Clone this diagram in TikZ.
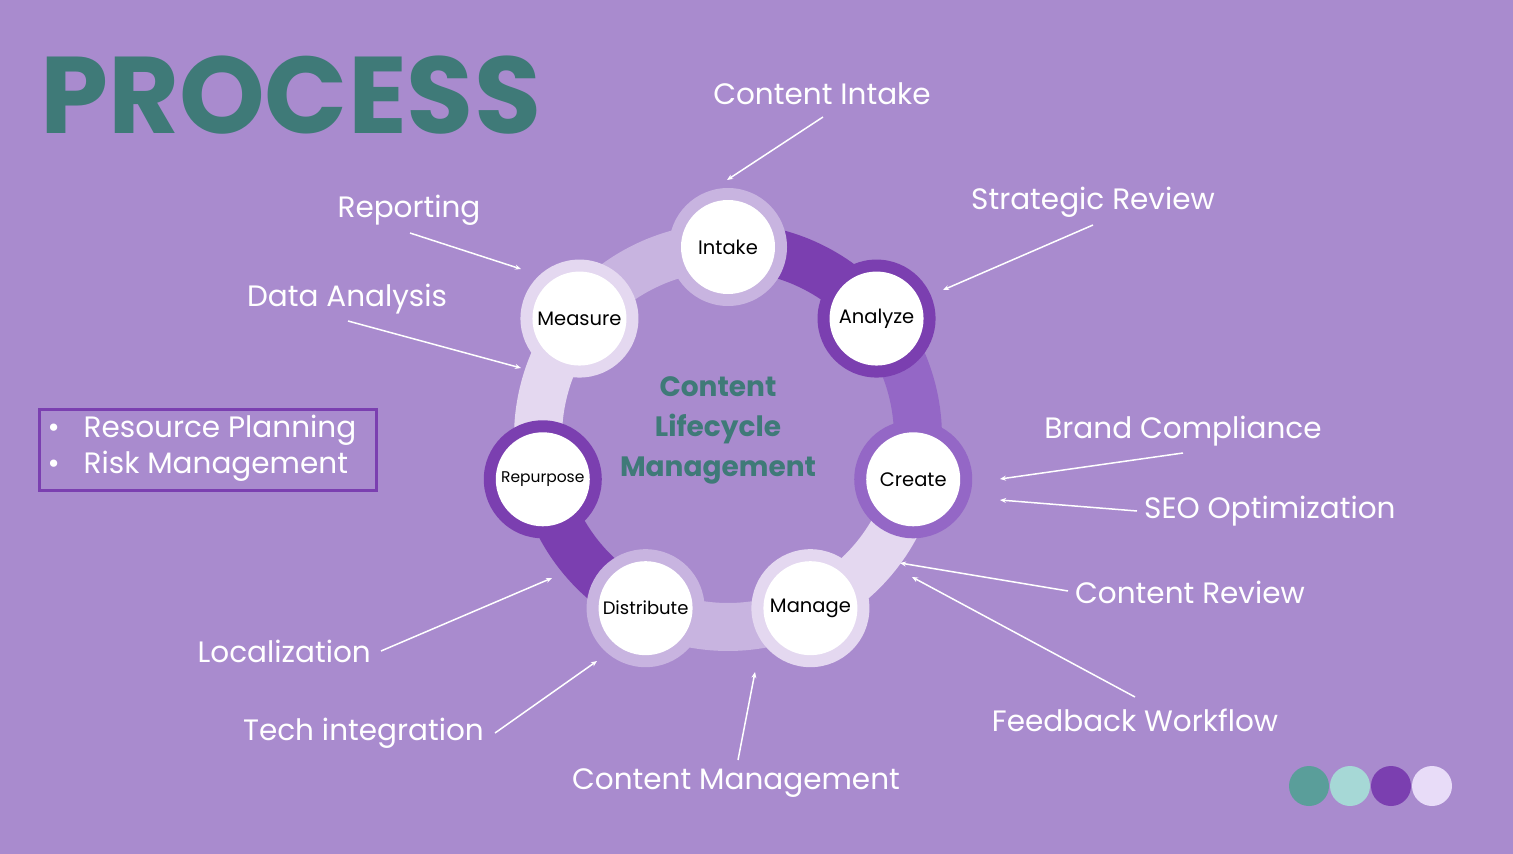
\documentclass[tikz,border=0pt]{standalone}
\usepackage{fontspec}
\setmainfont{Poppins}
\usetikzlibrary{arrows.meta,calc}
\definecolor{bg}{HTML}{A98BCE}
\definecolor{teal}{HTML}{3F7A78}
\definecolor{dk}{HTML}{7B3FB0}
\definecolor{md}{HTML}{9467C6}
\definecolor{lt}{HTML}{C8B4E0}
\definecolor{vl}{HTML}{E4D8F0}
\definecolor{dteal}{HTML}{5A9E9A}
\definecolor{lteal}{HTML}{A6D8D6}
\definecolor{lav}{HTML}{E8DCF8}
\begin{document}
\begin{tikzpicture}[x=1pt,y=-1pt,
  lbl/.style={text=white,font=\fontsize{29.5}{32}\selectfont,inner sep=1pt},
  arr/.style={white,line width=1.5pt,-{Stealth[length=6pt,width=5pt]}},
  stage/.style={circle,fill=white,minimum size=94pt,inner sep=0pt,font=\fontsize{19.5}{22}\selectfont},
  band/.style={line width=48pt}]
\useasboundingbox (0,0) rectangle (1513,854);
\fill[bg] (0,0) rectangle (1513,854);
\coordinate (c) at (728,437);
% connector bands (colour of clockwise-next stage)
\foreach \a/\col in {-90/dk,-38.57/md,12.86/vl,64.29/lt,115.71/dk,167.14/vl,218.57/lt}{
  \draw[band,\col] ($(c)+(\a:190)$) arc[start angle=\a,end angle=\a+51.43,radius=190];
}
% outer rings
\foreach \a/\col in {-90/lt,-38.57/dk,12.86/md,64.29/vl,115.71/lt,167.14/dk,218.57/vl}{
  \fill[\col] ($(c)+(\a:190)$) circle[radius=59];
}
\node[stage] (intake) at ($(c)+(-90:190)$) {Intake};
\node[stage] (analyze) at ($(c)+(-38.57:190)$) {Analyze};
\node[stage] (create) at ($(c)+(12.86:190)$) {Create};
\node[stage] (manage) at ($(c)+(64.29:190)$) {Manage};
\node[stage,font=\fontsize{18}{20}\selectfont] (distribute) at ($(c)+(115.71:190)$) {Distribute};
\node[stage,font=\fontsize{15.5}{17}\selectfont] (repurpose) at ($(c)+(167.14:190)$) {Repurpose};
\node[stage] (measure) at ($(c)+(218.57:190)$) {Measure};
\node[text=teal,font=\bfseries\fontsize{28}{40}\selectfont,align=center] (center) at (718,430) {Content\\Lifecycle\\Management};
% title
\node[text=teal,font=\bfseries\fontsize{109}{109}\selectfont,anchor=west,inner sep=0pt] (title) at (40,95) {PROCESS};
% labels
\node[lbl] (l1) at (822,94) {Content Intake};
\node[lbl] (l2) at (1093,202) {Strategic Review};
\node[lbl] (l3) at (409,210) {Reporting};
\node[lbl] (l4) at (347,299) {Data Analysis};
\node[lbl] (l5) at (1183,431) {Brand Compliance};
\node[lbl,anchor=west] (l6) at (1143,511) {SEO Optimization};
\node[lbl,anchor=west] (l7) at (1074,592) {Content Review};
\node[lbl] (l8) at (1135,720) {Feedback Workflow};
\node[lbl] (l9) at (736,783) {Content Management};
\node[lbl,anchor=east] (l10) at (485,733) {Tech integration};
\node[lbl,anchor=east] (l11) at (372,651) {Localization};
% arrow tips
\coordinate (t1) at (727,180); \coordinate (s1) at (823,117);
\coordinate (t2) at (943,290); \coordinate (s2) at (1093,225);
\coordinate (t3) at (521,269); \coordinate (s3) at (410,233);
\coordinate (t4) at (521,368); \coordinate (s4) at (348,321);
\coordinate (t5) at (1000,479); \coordinate (s5) at (1183,453);
\coordinate (t6) at (1000,500); \coordinate (s6) at (1137,511);
\coordinate (t7) at (900,563); \coordinate (s7) at (1068,591);
\coordinate (t8) at (912,577); \coordinate (s8) at (1135,697);
\coordinate (t9) at (755,672); \coordinate (s9) at (738,760);
\coordinate (t10) at (597,661); \coordinate (s10) at (495,733);
\coordinate (t11) at (552,578); \coordinate (s11) at (381,651);
\foreach \i in {1,...,11}{\draw[arr] (s\i) -- (t\i);}
% box
\node[draw=dk,line width=3pt,minimum width=337pt,minimum height=81pt,anchor=north west] (box) at (38,408) {};
\node[text=white,font=\fontsize{29.5}{36}\selectfont,align=left,anchor=west] (bul) at (44,448)
  {\textbullet\hspace{24pt}Resource Planning\\\textbullet\hspace{24pt}Risk Management};
% dots
\fill[dteal] (1309,786) circle[radius=20];
\fill[lteal] (1350,786) circle[radius=20];
\fill[dk] (1391,786) circle[radius=20];
\fill[lav] (1432,786) circle[radius=20];
\end{tikzpicture}
\end{document}
